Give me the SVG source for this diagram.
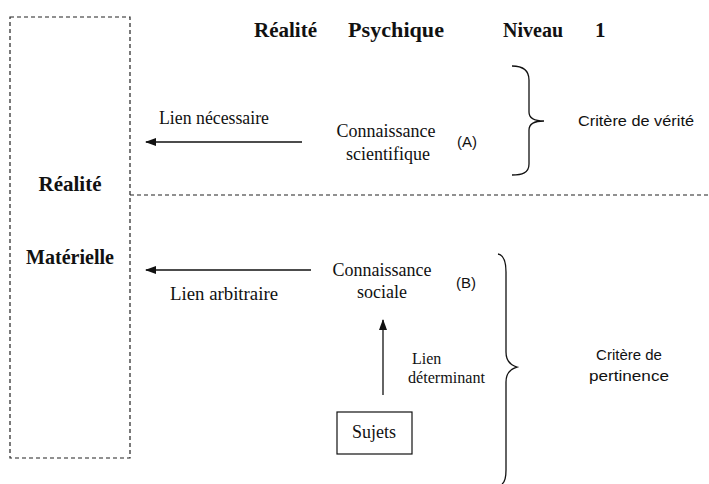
<svg xmlns="http://www.w3.org/2000/svg" width="709" height="484" viewBox="0 0 709 484">
<style>
.serif{font-family:"Liberation Serif","Times New Roman",serif;font-size:18px;fill:#111}
.small{font-family:"Liberation Serif","Times New Roman",serif;font-size:16px;fill:#111}
.bold{font-family:"Liberation Serif","Times New Roman",serif;font-size:21px;font-weight:bold;fill:#111}
.sans{font-family:"Liberation Sans",Arial,sans-serif;font-size:15px;fill:#111}
.dash{fill:none;stroke:#222;stroke-width:1.2;stroke-dasharray:4,3}
.line{fill:none;stroke:#111;stroke-width:1.3}
</style>
<defs>
<marker id="ah" markerWidth="11" markerHeight="8" refX="10" refY="4" orient="auto" markerUnits="userSpaceOnUse">
<path d="M0,0 L11,4 L0,8 Z" fill="#111"/>
</marker>
</defs>
<g id="materielle">
<rect class="dash" x="10" y="17" width="120" height="441"/>
<text class="bold" x="70" y="191" text-anchor="middle">Réalité</text>
<text class="bold" x="70" y="264" text-anchor="middle" textLength="88" lengthAdjust="spacingAndGlyphs">Matérielle</text>
</g>
<g id="separator">
<line class="dash" x1="130" y1="195" x2="709" y2="195"/>
</g>
<g id="header">
<text class="bold" x="254" y="37" textLength="63" lengthAdjust="spacingAndGlyphs">Réalité</text>
<text class="bold" x="348" y="37" textLength="96" lengthAdjust="spacingAndGlyphs">Psychique</text>
<text class="bold" x="503" y="37" textLength="60" lengthAdjust="spacingAndGlyphs">Niveau</text>
<text class="bold" x="595" y="37">1</text>
</g>
<g id="scientifique">
<text class="serif" x="386" y="137" text-anchor="middle">Connaissance</text>
<text class="serif" x="388" y="160" text-anchor="middle">scientifique</text>
<text class="sans" x="457" y="147">(A)</text>
</g>
<g id="sociale">
<text class="serif" x="382" y="276" text-anchor="middle">Connaissance</text>
<text class="serif" x="382" y="298" text-anchor="middle">sociale</text>
<text class="sans" x="456" y="288">(B)</text>
</g>
<g id="sujets">
<rect x="337" y="412" width="75" height="42" fill="none" stroke="#111" stroke-width="1.2"/>
<text class="serif" x="374" y="438" text-anchor="middle">Sujets</text>
</g>
<g id="verite">
<path class="line" d="M512,66 C522,66 529,69 529,80 L529,112 C529,118 535,121 544,121 C535,121 529,124 529,130 L529,164 C529,173 522,175 512,175"/>
<text class="sans" x="578" y="126" textLength="116" lengthAdjust="spacingAndGlyphs">Critère de vérité</text>
</g>
<g id="pertinence">
<path class="line" d="M498,254 C504,255 506,262 506,272 L506,352 C506,360 510,365 517,367 C510,369 506,374 506,382 L506,470 C506,477 505,482 502,484"/>
<text class="sans" x="629" y="360" text-anchor="middle">Critère de</text>
<text class="sans" x="629" y="381" text-anchor="middle" textLength="80" lengthAdjust="spacingAndGlyphs">pertinence</text>
</g>
<g id="connectors">
<line class="line" x1="302" y1="142" x2="146" y2="142" marker-end="url(#ah)"/>
<text class="serif" x="159" y="124" textLength="110" lengthAdjust="spacingAndGlyphs">Lien nécessaire</text>
<line class="line" x1="311" y1="270" x2="146" y2="270" marker-end="url(#ah)"/>
<text class="serif" x="170" y="300" textLength="108" lengthAdjust="spacingAndGlyphs">Lien arbitraire</text>
<line class="line" x1="383" y1="395" x2="383" y2="320" marker-end="url(#ah)"/>
<text class="small" x="412" y="364">Lien</text>
<text class="small" x="408" y="383" textLength="77" lengthAdjust="spacingAndGlyphs">déterminant</text>
</g>
</svg>
